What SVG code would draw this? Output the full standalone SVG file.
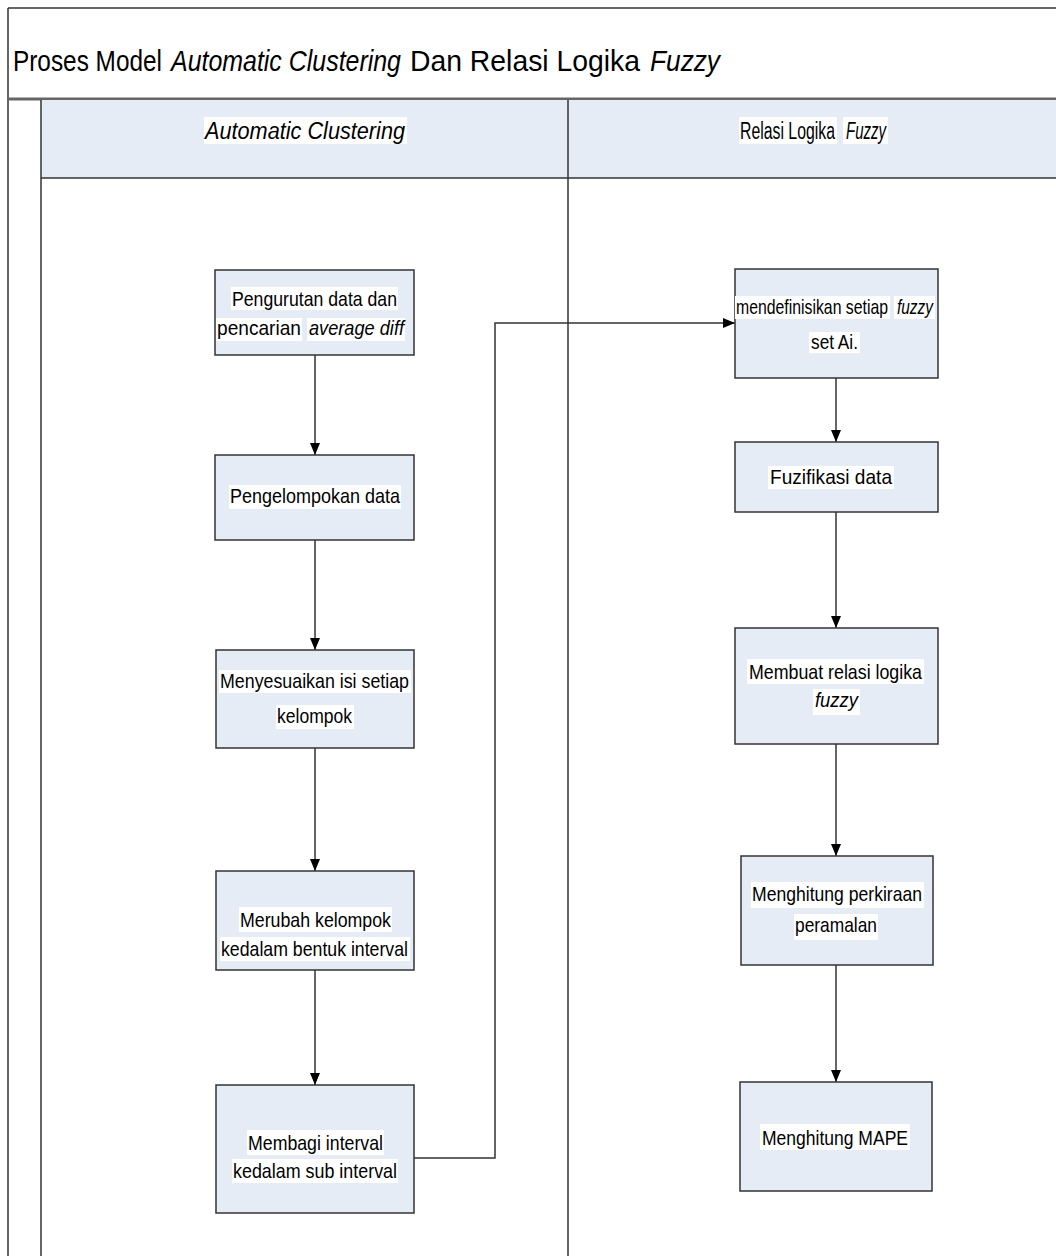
<svg xmlns="http://www.w3.org/2000/svg" width="1056" height="1256" viewBox="0 0 1056 1256">
  <defs>
    <marker id="arrow" viewBox="0 0 12 10" refX="12" refY="5" markerWidth="12" markerHeight="10" markerUnits="userSpaceOnUse" orient="auto">
      <path d="M0,0 L12,5 L0,10 z" fill="#000"/>
    </marker>
    <style>
      .frame { fill: none; stroke: #333; stroke-width: 1.5; }
      .band { fill: #e6ecf6; stroke: none; }
      .box { fill: #e6ecf6; stroke: #333; stroke-width: 1.5; }
      .hl { fill: #fff; }
      .t { font-family: "Liberation Sans", Arial, sans-serif; font-size: 21px; fill: #000; }
      .hdr { font-family: "Liberation Sans", Arial, sans-serif; font-size: 23px; fill: #000; }
      .title { font-family: "Liberation Sans", Arial, sans-serif; font-size: 30px; fill: #000; }
      .conn { fill: none; stroke: #333; stroke-width: 1.5; }
      .i { font-style: italic; }
    </style>
  </defs>

  <rect width="1056" height="1256" fill="#fff"/>

  <!-- pool frame and title -->
  <g id="pool">
    <line class="frame" x1="8" y1="8" x2="1056" y2="8"/>
    <line class="frame" x1="8" y1="8" x2="8" y2="1256"/>
    <text class="title" x="13" y="71" textLength="149" lengthAdjust="spacingAndGlyphs">Proses Model</text>
    <text class="title i" x="171" y="71" textLength="230" lengthAdjust="spacingAndGlyphs">Automatic Clustering</text>
    <text class="title" x="410" y="71" textLength="230" lengthAdjust="spacingAndGlyphs">Dan Relasi Logika</text>
    <text class="title i" x="650" y="71" textLength="70" lengthAdjust="spacingAndGlyphs">Fuzzy</text>
    <line x1="8" y1="99" x2="1056" y2="99" stroke="#666" stroke-width="3"/>
  </g>

  <!-- lanes -->
  <g id="lane-automatic-clustering">
    <rect class="band" x="41" y="100" width="527" height="78"/>
    <line class="frame" x1="41" y1="100" x2="41" y2="1256"/>
    <line class="frame" x1="41" y1="178" x2="568" y2="178"/>
    <rect class="hl" x="204" y="117" width="203" height="27"/>
    <text class="hdr i" x="205" y="139" textLength="200" lengthAdjust="spacingAndGlyphs">Automatic Clustering</text>
  </g>
  <g id="lane-relasi-logika-fuzzy">
    <rect class="band" x="568" y="100" width="488" height="78"/>
    <line class="frame" x1="568" y1="100" x2="568" y2="1256"/>
    <line class="frame" x1="568" y1="178" x2="1056" y2="178"/>
    <rect class="hl" x="739" y="117" width="98" height="27"/>
    <rect class="hl" x="843" y="117" width="45" height="27"/>
    <text class="hdr" x="740" y="139" textLength="95" lengthAdjust="spacingAndGlyphs">Relasi Logika</text>
    <text class="hdr i" x="846" y="139" textLength="40" lengthAdjust="spacingAndGlyphs">Fuzzy</text>
  </g>

  <!-- connectors -->
  <g id="connectors">
    <line class="conn" x1="315" y1="355" x2="315" y2="455" marker-end="url(#arrow)"/>
    <line class="conn" x1="315" y1="540" x2="315" y2="650" marker-end="url(#arrow)"/>
    <line class="conn" x1="315" y1="748" x2="315" y2="871" marker-end="url(#arrow)"/>
    <line class="conn" x1="315" y1="970" x2="315" y2="1085" marker-end="url(#arrow)"/>
    <path class="conn" d="M414,1158 H495 V323 H735" marker-end="url(#arrow)"/>
    <line class="conn" x1="836" y1="378" x2="836" y2="442" marker-end="url(#arrow)"/>
    <line class="conn" x1="836" y1="512" x2="836" y2="628" marker-end="url(#arrow)"/>
    <line class="conn" x1="836" y1="744" x2="836" y2="856" marker-end="url(#arrow)"/>
    <line class="conn" x1="836" y1="965" x2="836" y2="1082" marker-end="url(#arrow)"/>
  </g>

  <!-- Automatic Clustering steps -->
  <g id="n1">
    <rect class="box" x="215" y="270" width="199" height="85"/>
    <rect class="hl" x="231" y="287" width="167" height="23"/>
    <rect class="hl" x="216" y="318" width="86" height="23"/>
    <rect class="hl" x="307" y="318" width="98" height="23"/>
    <text class="t" x="232" y="306" textLength="165" lengthAdjust="spacingAndGlyphs">Pengurutan data dan</text>
    <text class="t" x="217" y="335" textLength="84" lengthAdjust="spacingAndGlyphs">pencarian</text>
    <text class="t i" x="309" y="335" textLength="95" lengthAdjust="spacingAndGlyphs">average diff</text>
  </g>
  <g id="n2">
    <rect class="box" x="215" y="455" width="199" height="85"/>
    <rect class="hl" x="229" y="485" width="172" height="24"/>
    <text class="t" x="230" y="503" textLength="170" lengthAdjust="spacingAndGlyphs">Pengelompokan data</text>
  </g>
  <g id="n3">
    <rect class="box" x="216" y="650" width="198" height="98"/>
    <rect class="hl" x="219" y="670" width="192" height="23"/>
    <rect class="hl" x="276" y="705" width="78" height="24"/>
    <text class="t" x="220" y="688" textLength="189" lengthAdjust="spacingAndGlyphs">Menyesuaikan isi setiap</text>
    <text class="t" x="277" y="723" textLength="75" lengthAdjust="spacingAndGlyphs">kelompok</text>
  </g>
  <g id="n4">
    <rect class="box" x="216" y="871" width="198" height="99"/>
    <rect class="hl" x="239" y="907" width="153" height="25"/>
    <rect class="hl" x="220" y="937" width="190" height="24"/>
    <text class="t" x="240" y="927" textLength="151" lengthAdjust="spacingAndGlyphs">Merubah kelompok</text>
    <text class="t" x="221" y="956" textLength="187" lengthAdjust="spacingAndGlyphs">kedalam bentuk interval</text>
  </g>
  <g id="n5">
    <rect class="box" x="216" y="1085" width="198" height="128"/>
    <rect class="hl" x="247" y="1130" width="137" height="25"/>
    <rect class="hl" x="232" y="1159" width="166" height="24"/>
    <text class="t" x="248" y="1150" textLength="135" lengthAdjust="spacingAndGlyphs">Membagi interval</text>
    <text class="t" x="233" y="1178" textLength="164" lengthAdjust="spacingAndGlyphs">kedalam sub interval</text>
  </g>

  <!-- Relasi Logika Fuzzy steps -->
  <g id="n6">
    <rect class="box" x="735" y="269" width="203" height="109"/>
    <rect class="hl" x="735" y="296" width="155" height="23"/>
    <rect class="hl" x="894" y="296" width="41" height="23"/>
    <rect class="hl" x="809" y="332" width="51" height="21"/>
    <text class="t" x="736" y="314" textLength="152" lengthAdjust="spacingAndGlyphs">mendefinisikan setiap</text>
    <text class="t i" x="897" y="314" textLength="36" lengthAdjust="spacingAndGlyphs">fuzzy</text>
    <text class="t" x="811" y="349" textLength="47" lengthAdjust="spacingAndGlyphs">set Ai.</text>
  </g>
  <g id="n7">
    <rect class="box" x="735" y="442" width="203" height="70"/>
    <rect class="hl" x="768" y="466" width="126" height="23"/>
    <text class="t" x="770" y="484" textLength="122" lengthAdjust="spacingAndGlyphs">Fuzifikasi data</text>
  </g>
  <g id="n8">
    <rect class="box" x="735" y="628" width="203" height="116"/>
    <rect class="hl" x="747" y="659" width="177" height="25"/>
    <rect class="hl" x="813" y="689" width="47" height="26"/>
    <text class="t" x="749" y="679" textLength="173" lengthAdjust="spacingAndGlyphs">Membuat relasi logika</text>
    <text class="t i" x="815" y="707" textLength="43" lengthAdjust="spacingAndGlyphs">fuzzy</text>
  </g>
  <g id="n9">
    <rect class="box" x="741" y="856" width="192" height="109"/>
    <rect class="hl" x="751" y="882" width="173" height="26"/>
    <rect class="hl" x="794" y="914" width="84" height="26"/>
    <text class="t" x="752" y="901" textLength="170" lengthAdjust="spacingAndGlyphs">Menghitung perkiraan</text>
    <text class="t" x="795" y="932" textLength="82" lengthAdjust="spacingAndGlyphs">peramalan</text>
  </g>
  <g id="n10">
    <rect class="box" x="740" y="1082" width="192" height="109"/>
    <rect class="hl" x="760" y="1124" width="150" height="26"/>
    <text class="t" x="762" y="1145" textLength="146" lengthAdjust="spacingAndGlyphs">Menghitung MAPE</text>
  </g>
</svg>
